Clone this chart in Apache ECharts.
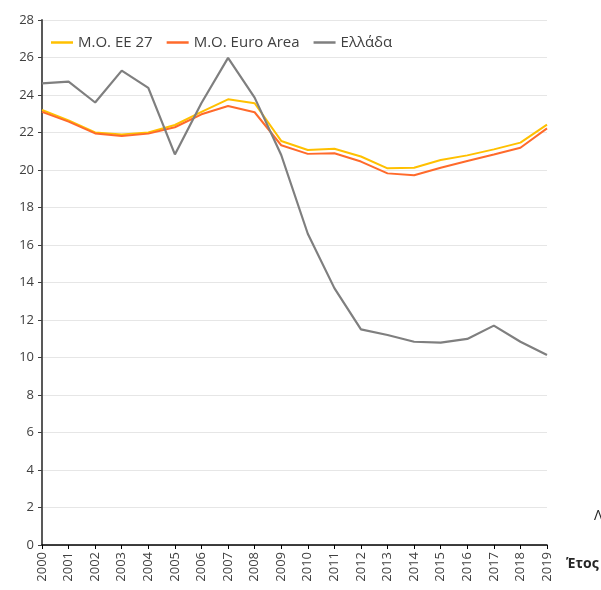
<!DOCTYPE html>
<html style="height: 100%">
<head>
    <meta charset="utf-8">
    <script src="https://cdn.jsdelivr.net/npm/echarts@6/dist/echarts.min.js"></script>
</head>
<body style="height: 100%; margin: 0; background: #fff">
    <div id="chart" style="width: 601px; height: 590px"></div>
    <script type="text/javascript">
        var years = ['2000', '2001', '2002', '2003', '2004', '2005', '2006', '2007', '2008', '2009',
            '2010', '2011', '2012', '2013', '2014', '2015', '2016', '2017', '2018', '2019'];
        var ee27 = [23.2, 22.65, 22.0, 21.9, 22.0, 22.4, 23.1, 23.77, 23.56, 21.55,
            21.07, 21.13, 20.72, 20.09, 20.12, 20.53, 20.78, 21.1, 21.46, 22.42];
        var euroArea = [23.1, 22.58, 21.95, 21.81, 21.94, 22.28, 22.97, 23.41, 23.08, 21.32,
            20.86, 20.89, 20.45, 19.82, 19.72, 20.12, 20.48, 20.83, 21.19, 22.22];
        var greece = [24.62, 24.71, 23.6, 25.3, 24.38, 20.83, 23.57, 25.98, 23.86, 20.8,
            16.6, 13.7, 11.5, 11.2, 10.84, 10.79, 10.99, 11.7, 10.84, 10.13];

        var myChart = echarts.init(document.getElementById('chart'));
        var font = 'Open Sans';
        myChart.setOption({
            animation: false,
            textStyle: { fontFamily: font },
            grid: { left: 42, right: 54, top: 20, bottom: 45 },
            legend: {
                left: 46, top: 30,
                icon: 'rect', itemWidth: 22, itemHeight: 2.5, itemGap: 14,
                textStyle: { fontSize: 15, color: '#404040', fontFamily: font },
                data: ['M.O. EE 27', 'M.O. Euro Area', 'Ελλάδα']
            },
            xAxis: {
                type: 'category',
                data: years,
                boundaryGap: false,
                axisLine: { lineStyle: { color: '#000', width: 1.5 } },
                axisTick: { show: true, alignWithLabel: true, length: 4, lineStyle: { color: '#000' } },
                axisLabel: { rotate: 90, color: '#404040', fontSize: 13, margin: 7, interval: 0 },
                splitLine: { show: false }
            },
            yAxis: {
                type: 'value',
                min: 0, max: 28, interval: 2,
                axisLine: { show: true, lineStyle: { color: '#595959', width: 2 } },
                axisTick: { show: true, length: 4, lineStyle: { color: '#404040' } },
                axisLabel: { color: '#404040', fontSize: 13, margin: 8 },
                splitLine: { lineStyle: { color: '#e6e6e6', width: 1 } }
            },
            series: [
                {
                    name: 'M.O. EE 27', type: 'line', data: ee27,
                    symbol: 'none', lineStyle: { color: '#FFC000', width: 2 }, itemStyle: { color: '#FFC000' }
                },
                {
                    name: 'M.O. Euro Area', type: 'line', data: euroArea,
                    symbol: 'none', lineStyle: { color: '#FF6A2B', width: 2 }, itemStyle: { color: '#FF6A2B' }
                },
                {
                    name: 'Ελλάδα', type: 'line', data: greece,
                    symbol: 'none', lineStyle: { color: '#7F7F7F', width: 2.2 }, itemStyle: { color: '#7F7F7F' }
                }
            ],
            graphic: [
                {
                    type: 'text', left: 566, top: 557,
                    style: { text: 'Έτος', fontSize: 14, fontWeight: 'bold', fill: '#262626', fontFamily: font }
                },
                {
                    type: 'text', left: 594, top: 509,
                    style: { text: 'Λόγος', fontSize: 14, fill: '#262626', fontFamily: font }
                }
            ]
        });
    </script>
</body>
</html>
